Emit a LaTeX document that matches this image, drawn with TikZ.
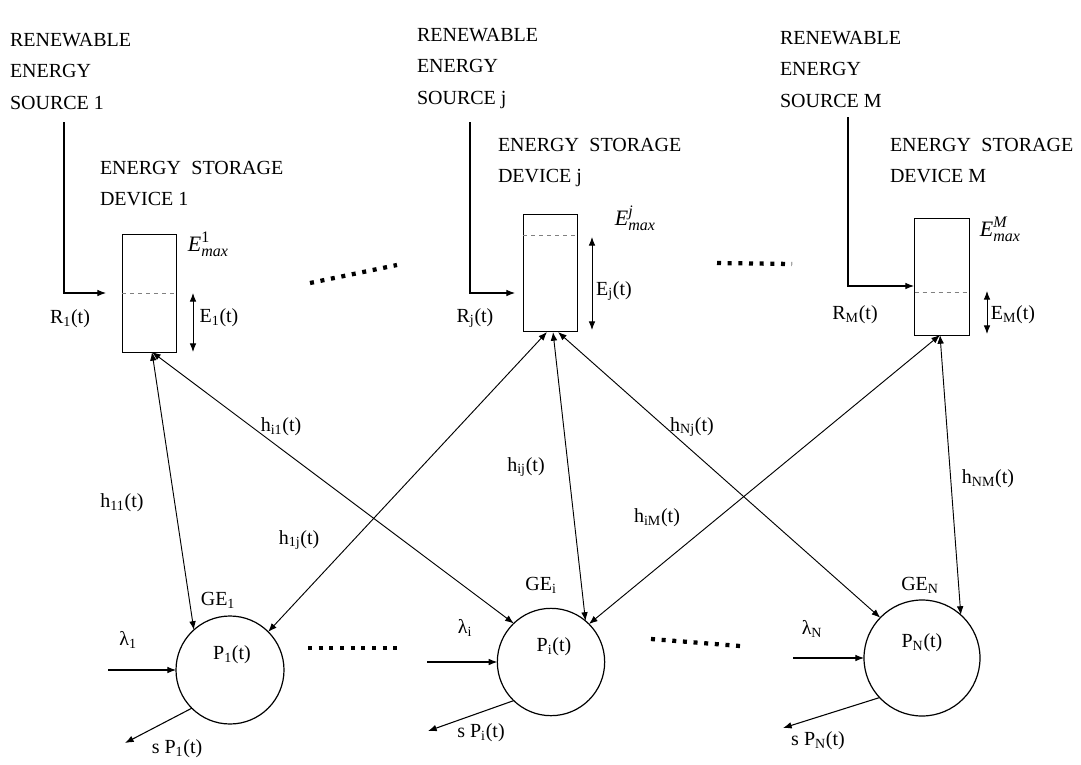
\documentclass[tikz,border=0pt]{standalone}
\usepackage{fontspec}
\setmainfont{Liberation Serif}
\usetikzlibrary{arrows.meta,calc}
\newcommand{\emaxlab}[1]{{\fontsize{16.5}{18}\selectfont\textit{E}}\makebox[0pt][l]{\raisebox{7pt}{\fontsize{12}{12}\selectfont #1}}\raisebox{-3.5pt}{\fontsize{12}{12}\selectfont\itshape max}}
\tikzset{
  >={Latex[length=6.5pt,width=5pt]},
  txt/.style={inner sep=0pt, outer sep=0pt, anchor=north west, align=left, font=\fontsize{15}{23.6}\selectfont},
  lbl/.style={inner sep=0pt, font=\fontsize{15}{18}\selectfont},
  store/.style={draw, line width=0.9pt, minimum width=41pt, minimum height=88pt, inner sep=0pt, outer sep=0pt},
  ge/.style={draw, circle, line width=0.9pt, inner sep=0pt, outer sep=0pt},
  link/.style={<->, line width=0.7pt},
  feed/.style={->, line width=0.8pt},
  dots/.style={line width=3.2pt, dash pattern=on 3pt off 5pt},
  level/.style={gray, dashed, line width=0.5pt}
}
\begin{document}
\begin{tikzpicture}[x=0.75pt, y=-0.75pt]
\fill[white] (0,0) rectangle (1081,764);
\useasboundingbox (0,0) rectangle (1081,764);

% source texts
\node[txt] (src1) at (10,33) {RENEWABLE\\ENERGY\\SOURCE 1};
\node[txt] (srcj) at (417,28) {RENEWABLE\\ENERGY\\SOURCE j};
\node[txt] (srcM) at (780,31) {RENEWABLE\\ENERGY\\SOURCE M};

% storage texts
\node[txt] (st1) at (100,161) {ENERGY\hspace{4pt} STORAGE\\DEVICE 1};
\node[txt] (stj) at (498,138) {ENERGY\hspace{4pt} STORAGE\\DEVICE j};
\node[txt] (stM) at (890,138) {ENERGY\hspace{4pt} STORAGE\\DEVICE M};

% storage boxes
\node[store] (box1) at (149.5,293.5) {};
\node[store] (boxj) at (550.5,273) {};
\node[store] (boxM) at (942,277) {};

% level lines
\draw[level] (box1.west) -- (box1.east);
\draw[level] ($(boxj.north west)+(0,21)$) -- ($(boxj.north east)+(0,21)$);
\draw[level] ($(boxM.north west)+(0,74)$) -- ($(boxM.north east)+(0,74)$);

% Emax labels
\node[lbl] (em1) at (208,244) {\emaxlab{1}};
\node[lbl] (emj) at (635,218) {\emaxlab{\itshape j}};
\node[lbl] (emM) at (1000,229) {\emaxlab{\itshape M}};

% energy level arrows
\coordinate (e1a) at (193,293); \coordinate (e1b) at (193,352);
\coordinate (eja) at (592,237); \coordinate (ejb) at (592,330);
\coordinate (eMa) at (987,291); \coordinate (eMb) at (987,334);
\draw[link] (e1a) -- (e1b);
\draw[link] (eja) -- (ejb);
\draw[link] (eMa) -- (eMb);
\node[lbl] (el1) at (219,318) {E\textsubscript{1}(t)};
\node[lbl] (elj) at (614,291) {E\textsubscript{j}(t)};
\node[lbl] (elM) at (1013,315) {E\textsubscript{M}(t)};

% renewable feeds
\coordinate (r1a) at (64,122); \coordinate (r1b) at (106,293);
\coordinate (rja) at (470,122); \coordinate (rjb) at (515,293);
\coordinate (rMa) at (848,117); \coordinate (rMb) at (914,286);
\draw[feed] (r1a) |- (r1b);
\draw[feed] (rja) |- (rjb);
\draw[feed] (rMa) |- (rMb);
\node[lbl] (rl1) at (70,319) {R\textsubscript{1}(t)};
\node[lbl] (rlj) at (475,318) {R\textsubscript{j}(t)};
\node[lbl] (rlM) at (855,315) {R\textsubscript{M}(t)};

% generators
\node[ge, minimum size=81pt] (ge1) at (230,670) {};
\node[ge, minimum size=80.5pt] (gei) at (551,662) {};
\node[ge, minimum size=87pt] (geN) at (922,658) {};
\node[lbl] (gl1) at (218,600) {GE\textsubscript{1}};
\node[lbl] (gli) at (541,585) {GE\textsubscript{i}};
\node[lbl] (glN) at (920,585) {GE\textsubscript{N}};
\node[lbl] (p1) at (232,655) {P\textsubscript{1}(t)};
\node[lbl] (pi) at (554,647) {P\textsubscript{i}(t)};
\node[lbl] (pN) at (922,643) {P\textsubscript{N}(t)};

% arrivals
\coordinate (l1) at (108,670);
\coordinate (li) at (427,662);
\coordinate (lN) at (793,658);
\draw[feed] (l1) -- (ge1.180);
\draw[feed] (li) -- (gei.180);
\draw[feed] (lN) -- (geN.180);
\node[lbl] (lam1) at (128,640) {λ\textsubscript{1}};
\node[lbl] (lami) at (465,628) {λ\textsubscript{i}};
\node[lbl] (lamN) at (812,629) {λ\textsubscript{N}};

% departures
\coordinate (d1) at (125,743);
\coordinate (di) at (428,731);
\coordinate (dN) at (783,728);
\draw[feed] (ge1.225) -- (d1);
\draw[feed] (gei.226) -- (di);
\draw[feed] (geN.223) -- (dN);
\node[lbl] (sp1) at (177,749) {s P\textsubscript{1}(t)};
\node[lbl] (spi) at (481,733) {s P\textsubscript{i}(t)};
\node[lbl] (spN) at (818,741) {s P\textsubscript{N}(t)};

% channel links
\coordinate (b1) at (152,352);
\coordinate (bj1) at (547,332);
\coordinate (bj2) at (553,332);
\coordinate (bj3) at (558,332);
\coordinate (bM) at (940,335);
\draw[link] (b1) -- (ge1.132);
\draw[link] (b1) -- (gei.134);
\draw[link] (bj1) -- (ge1.45);
\draw[link] (bj2) -- (gei.50);
\draw[link] (bj3) -- (geN.136);
\draw[link] (bM) -- (gei.45);
\draw[link] (bM) -- (geN.48);

\node[lbl] (h11) at (122,503) {h\textsubscript{11}(t)};
\node[lbl] (hi1) at (281,427) {h\textsubscript{i1}(t)};
\node[lbl] (h1j) at (299,540) {h\textsubscript{1j}(t)};
\node[lbl] (hij) at (526,467) {h\textsubscript{ij}(t)};
\node[lbl] (hNj) at (692,427) {h\textsubscript{Nj}(t)};
\node[lbl] (hiM) at (657,518) {h\textsubscript{iM}(t)};
\node[lbl] (hNM) at (988,479) {h\textsubscript{NM}(t)};

% dotted continuation marks
\coordinate (dt1a) at (310,283); \coordinate (dt1b) at (397,265);
\coordinate (dt2a) at (717,263); \coordinate (dt2b) at (792,264);
\coordinate (dt3a) at (308,648); \coordinate (dt3b) at (397,648);
\coordinate (dt4a) at (651,639); \coordinate (dt4b) at (740,646);
\draw[dots] (dt1a) -- (dt1b);
\draw[dots] (dt2a) -- (dt2b);
\draw[dots] (dt3a) -- (dt3b);
\draw[dots] (dt4a) -- (dt4b);
\end{tikzpicture}
\end{document}
